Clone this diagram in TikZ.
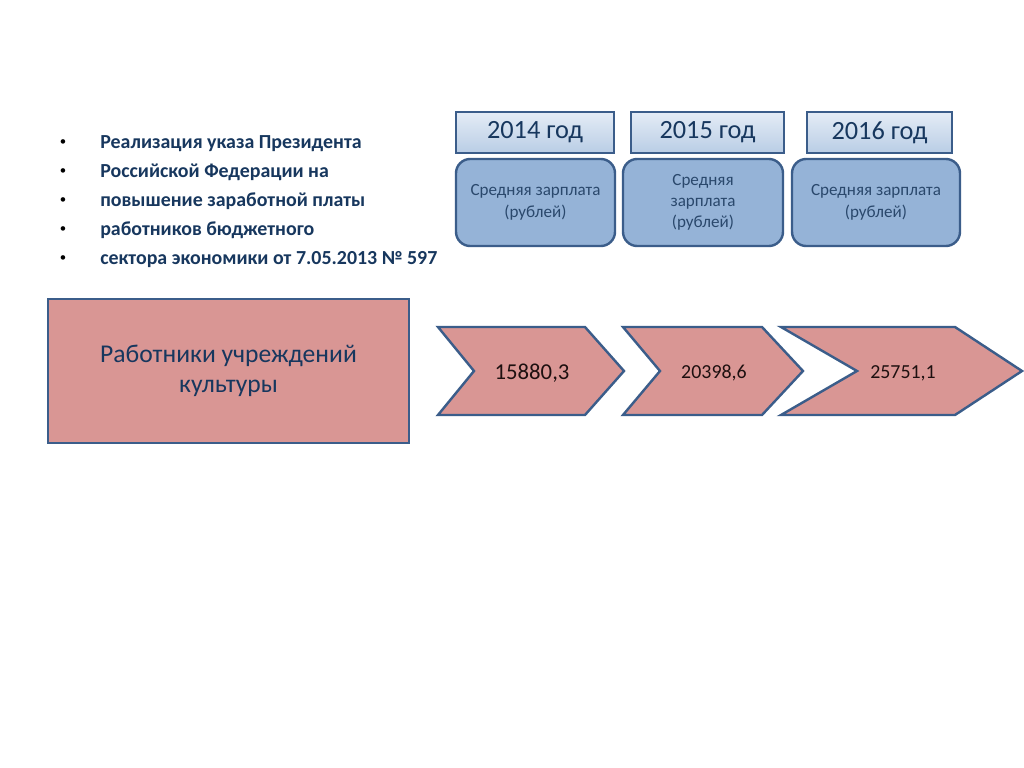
\documentclass[tikz,border=0pt]{standalone}
\usepackage{fontspec}
\setmainfont{Carlito}
\usepackage{tikz}
\usetikzlibrary{positioning}
\definecolor{Navy}{HTML}{17375E}
\definecolor{Edge}{HTML}{3B5D8A}
\definecolor{Rose}{HTML}{D99694}
\definecolor{Sky}{HTML}{95B3D7}
\definecolor{SkyTop}{HTML}{E4ECF6}
\definecolor{SkyBot}{HTML}{B9CDE5}
\definecolor{Slate}{HTML}{2A486C}
\definecolor{Dark}{HTML}{1E1010}

\begin{document}
\begin{tikzpicture}[x=0.703125pt,y=-0.703125pt,
  year/.style={draw=Edge,line width=1.5pt,top color=SkyTop,bottom color=SkyBot,
    minimum height=28.8pt,inner sep=0pt,text=Navy,font=\fontsize{18.5}{22}\selectfont},
  pay/.style={draw=Edge,line width=1.7pt,fill=Sky,rounded corners=10pt,
    minimum height=61.2pt,inner sep=0pt,align=center,text=Slate,
    font=\fontsize{12}{15}\selectfont},
  chev/.style={draw=Edge,line width=1.7pt,fill=Rose,line join=miter},
  val/.style={text=Dark,inner sep=0pt},
  item/.style={text=Navy,inner sep=0pt,font=\fontsize{14}{17}\selectfont\bfseries},
  dot/.style={text=black,inner sep=0pt,font=\fontsize{9}{10}\selectfont}]
\fill[white] (0,0) rectangle (1024,768);
\useasboundingbox (0,0) rectangle (1024,768);
% list
\foreach \i/\y/\txt in {1/149/Реализация указа Президента,
    2/178/Российской Федерации на,
    3/207/повышение заработной платы,
    4/236/работников бюджетного,
    5/265/сектора экономики от 7.05.2013 № 597}{
  \node[dot] (bul\i) at (63,\y-6) {•};
  \node[item,anchor=base west] (line\i) at (100,\y) {\txt};
}
% years
\node[year,minimum width=111.1pt] (y2014) at (535,132.5) {2014 год};
\node[year,minimum width=107.6pt] (y2015) at (707.5,132.5) {2015 год};
\node[year,minimum width=102pt] (y2016) at (879.5,132.5) {2016 год};
\node[pay,minimum width=111.8pt] (p2014) at (535.5,202.5) {Средняя зарплата\\(рублей)};
\node[pay,minimum width=112.5pt] (p2015) at (703,202.5) {Средняя\\зарплата\\(рублей)};
\node[pay,minimum width=118.1pt] (p2016) at (876,202.5) {Средняя зарплата\\(рублей)};
% staff
\node[draw=Edge,line width=1.9pt,fill=Rose,minimum width=253.8pt,minimum height=101.2pt,
  align=center,text=Navy,font=\fontsize{18}{21}\selectfont] (staff) at (228.5,371)
  {Работники учреждений\\культуры};
% chevrons
\draw[chev] (438,327) -- (585,327) -- (624,371) -- (585,415) -- (438,415) -- (474,371) -- cycle;
\draw[chev] (623,327) -- (762,327) -- (803,371) -- (762,415) -- (623,415) -- (660,371) -- cycle;
\draw[chev] (781,327) -- (955,327) -- (1022,371) -- (955,415) -- (781,415) -- (857,371) -- cycle;
\node[val,font=\fontsize{16}{19}\selectfont] (v2014) at (532,373) {15880,3};
\node[val,font=\fontsize{14}{17}\selectfont] (v2015) at (714,373) {20398,6};
\node[val,font=\fontsize{14}{17}\selectfont] (v2016) at (903,373) {25751,1};
\end{tikzpicture}
\end{document}
